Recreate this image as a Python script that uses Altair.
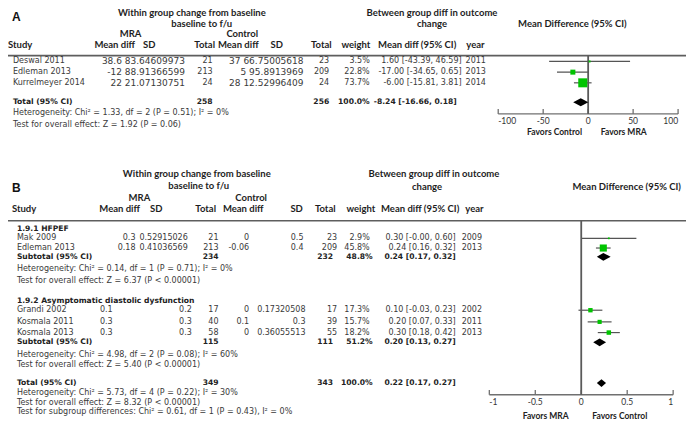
import altair as alt
import pandas as pd

# ======================= DATA =======================
# ---- Panel A ----
a_study = ["Deswal 2011", "Edleman 2013", "Kurrelmeyer 2014"]
a_mra_md = ["38.6", "-12", "22"]
a_mra_sd = ["83.64609973", "88.91366599", "21.07130751"]
a_mra_n = [21, 213, 24]
a_ctl_md = ["37", "5", "28"]
a_ctl_sd = ["66.75005618", "95.8913969", "12.52996409"]
a_ctl_n = [23, 209, 24]
a_weight = [3.5, 22.8, 73.7]
a_md = [1.60, -17.00, -6.00]
a_lo = [-43.39, -34.65, -15.81]
a_hi = [46.59, 0.65, 3.81]
a_year = [2011, 2013, 2014]
a_total_n = [258, 256]
a_total_est = [-8.24, -16.66, 0.18]
a_notes = ["Heterogeneity: Chi² = 1.33, df = 2 (P = 0.51); I² = 0%",
           "Test for overall effect: Z = 1.92 (P = 0.06)"]
a_ticks = [-100, -50, 0, 50, 100]
a_favors = ["Favors Control", "Favors MRA"]

# ---- Panel B ----
b_group_names = ["1.9.1 HFPEF", "1.9.2 Asymptomatic diastolic dysfunction"]
b_study = [["Mak 2009", "Edleman 2013"], ["Grandi 2002", "Kosmala 2011", "Kosmala 2013"]]
b_mra_md = [["0.3", "0.18"], ["0.1", "0.3", "0.3"]]
b_mra_sd = [["0.52915026", "0.41036569"], ["0.2", "0.3", "0.3"]]
b_mra_n = [[21, 213], [17, 40, 58]]
b_ctl_md = [["0", "-0.06"], ["0", "0.1", "0"]]
b_ctl_sd = [["0.5", "0.4"], ["0.17320508", "0.3", "0.36055513"]]
b_ctl_n = [[23, 209], [17, 39, 55]]
b_weight = [[2.9, 45.8], [17.3, 15.7, 18.2]]
b_md = [[0.30, 0.24], [0.10, 0.20, 0.30]]
b_lo = [[-0.0, 0.16], [-0.03, 0.07, 0.18]]
b_hi = [[0.60, 0.32], [0.23, 0.33, 0.42]]
b_year = [[2009, 2013], [2002, 2011, 2013]]
b_sub_n = [[234, 232], [115, 111]]
b_sub_w = [48.8, 51.2]
b_sub_est = [[0.24, 0.17, 0.32], [0.20, 0.13, 0.27]]
b_sub_notes = [["Heterogeneity: Chi² = 0.14, df = 1 (P = 0.71); I² = 0%",
                "Test for overall effect: Z = 6.37 (P < 0.00001)"],
               ["Heterogeneity: Chi² = 4.98, df = 2 (P = 0.08); I² = 60%",
                "Test for overall effect: Z = 5.40 (P < 0.00001)"]]
b_total_n = [349, 343]
b_total_est = [0.22, 0.17, 0.27]
b_total_notes = ["Heterogeneity: Chi² = 5.73, df = 4 (P = 0.22); I² = 30%",
                 "Test for overall effect: Z = 8.32 (P < 0.00001)",
                 "Test for subgroup differences: Chi² = 0.61, df = 1 (P = 0.43), I² = 0%"]
b_ticks = [-1, -0.5, 0, 0.5, 1]
b_favors = ["Favors MRA", "Favors Control"]

# ======================= LAYOUT =======================
W, H = 678, 413
RX = [4, 690]
RY = [2, 427]


def sx(v):
    return (v - RX[0]) * W / (RX[1] - RX[0])


def xs():
    return alt.Scale(domain=RX, range=[0, W], nice=False, zero=False)


YS = alt.Scale(domain=RY, range=[0, H], nice=False, zero=False)
FA_DOM, FA_RANGE = [-100, 100], [sx(500), sx(682)]
FB_DOM, FB_RANGE = [-1, 1], [sx(491), sx(677)]

A_ROWS = [57, 68, 79]
A_TOT = 99
A_NOTES = [110, 122]
A_LINE = 51
A_AXIS = 111
A_FAV = [(557, 130), (627, 130)]

B_GROUP_Y = [229, 303]
B_ROWS = [[239, 249], [313, 325, 336]]
B_SUB_Y = [258, 346]
B_SUB_NOTES = [[271, 283], [359, 369]]
B_TOT = 388
B_TOT_NOTES = [398, 408, 418]
B_LINE = 221
B_AXIS = 400
B_FAV = [(548, 422), (623, 422)]

B_COLS = [dict(mra_md=(133, "right"), mra_sd=(137, "left"), ctl_md=(248, "right"), ctl_sd=(303, "right")),
          dict(mra_md=(97, "left"), mra_sd=(190, "right"), ctl_md=(248, "right"), ctl_sd=(305, "right"))]

STYLES = {
    "body": dict(font="DejaVu Sans", fontSize=8, fontWeight="normal", color="#3a3a3a"),
    "num": dict(font="DejaVu Sans", fontSize=9, fontWeight="normal", color="#3a3a3a"),
    "bodyb": dict(font="DejaVu Sans", fontSize=7.6, fontWeight="bold", color="#222222"),
    "head": dict(font="Lato", fontSize=9.5, fontWeight="bold", color="#1e1e1e"),
    "fav": dict(font="Lato", fontSize=8.5, fontWeight="bold", color="#222222"),
    "panel": dict(font="Liberation Sans", fontSize=12, fontWeight="bold", color="#111111"),
}
TICK_STYLE = dict(font="Lato", fontSize=8.5, color="#333333")
AXIS_COLOR = "#707070"
GREEN = "#00c400"


def ci_str(md, lo, hi):
    return f"{md:.2f} [{lo:.2f}, {hi:.2f}]"


cells = []


def add(x, y, text, style="body", align="left"):
    cells.append(dict(x=x, y=y, text=str(text), style=style, align=align))


# ---------- Panel A text ----------
add(8, 11, "A", "panel")
add(190, 7.5, "Within group change from baseline", "head", "center")
add(200, 18, "baseline to f/u", "head", "center")
add(433, 7.5, "Between group diff in outcome", "head", "center")
add(433, 18, "change", "head", "center")
add(575, 18, "Mean Difference (95% CI)", "head", "center")
add(128, 29, "MRA", "head", "center")
add(241, 29, "Control", "head", "center")
for lab, cx in [("Mean diff", 112), ("SD", 147), ("Total", 203), ("Mean diff", 237), ("SD", 276),
                ("Total", 321), ("weight", 356), ("Mean diff (95% CI)", 418), ("year", 477)]:
    add(cx, 40, lab, "head", "center")
add(4, 40, "Study", "head", "left")
for i, y in enumerate(A_ROWS):
    add(9, y, a_study[i])
    add(183, y, f"{a_mra_md[i]} {a_mra_sd[i]}", "num", "right")
    add(211, y, a_mra_n[i], "body", "right")
    add(303, y, f"{a_ctl_md[i]} {a_ctl_sd[i]}", "num", "right")
    add(329, y, a_ctl_n[i], "body", "right")
    add(370, y, f"{a_weight[i]:.1f}%", "body", "right")
    add(463, y, ci_str(a_md[i], a_lo[i], a_hi[i]), "body", "right")
    add(467, y, a_year[i], "body", "left")
add(9, A_TOT, "Total (95% CI)", "bodyb")
add(211, A_TOT, a_total_n[0], "bodyb", "right")
add(329, A_TOT, a_total_n[1], "bodyb", "right")
add(370, A_TOT, "100.0%", "bodyb", "right")
add(458, A_TOT, ci_str(*a_total_est), "bodyb", "right")
for note, y in zip(a_notes, A_NOTES):
    add(9, y, note)
for lab, (fx, fy) in zip(a_favors, A_FAV):
    add(fx, fy, lab, "fav", "center")

# ---------- Panel B text ----------
add(8, 187, "B", "panel")
add(195, 173, "Within group change from baseline", "head", "center")
add(197, 185, "baseline to f/u", "head", "center")
add(435, 173, "Between group diff in outcome", "head", "center")
add(428, 186, "change", "head", "center")
add(630, 186, "Mean Difference (95% CI)", "head", "center")
add(137, 198, "MRA", "head", "center")
add(250, 198, "Control", "head", "center")
add(8, 209, "Study", "head", "left")
for lab, cx in [("Mean diff", 117), ("SD", 154), ("Total", 204), ("Mean diff", 242), ("SD", 296),
                ("Total", 325), ("weight", 361), ("Mean diff (95% CI)", 421), ("year", 476)]:
    add(cx, 209, lab, "head", "center")

b_study_rows = []
b_diamonds = []
for g in range(2):
    add(13, B_GROUP_Y[g], b_group_names[g], "bodyb")
    cols = B_COLS[g]
    for i, y in enumerate(B_ROWS[g]):
        add(13, y, b_study[g][i])
        add(cols["mra_md"][0], y, b_mra_md[g][i], "body", cols["mra_md"][1])
        add(cols["mra_sd"][0], y, b_mra_sd[g][i], "body", cols["mra_sd"][1])
        add(217, y, b_mra_n[g][i], "body", "right")
        add(cols["ctl_md"][0], y, b_ctl_md[g][i], "body", cols["ctl_md"][1])
        add(cols["ctl_sd"][0], y, b_ctl_sd[g][i], "body", cols["ctl_sd"][1])
        add(337, y, b_ctl_n[g][i], "body", "right")
        add(370, y, f"{b_weight[g][i]:.1f}%", "body", "right")
        add(457, y, ci_str(b_md[g][i], b_lo[g][i], b_hi[g][i]), "body", "right")
        add(463, y, b_year[g][i], "body", "left")
        b_study_rows.append(dict(md=b_md[g][i], lo=b_lo[g][i], hi=b_hi[g][i], weight=b_weight[g][i], y=y))
    ys = B_SUB_Y[g]
    add(13, ys, "Subtotal (95% CI)", "bodyb")
    add(217, ys, b_sub_n[g][0], "bodyb", "right")
    add(333, ys, b_sub_n[g][1], "bodyb", "right")
    add(373, ys, f"{b_sub_w[g]:.1f}%", "bodyb", "right")
    add(457, ys, ci_str(*b_sub_est[g]), "bodyb", "right")
    b_diamonds.append((f"sub{g}", b_sub_est[g], ys))
    for note, y in zip(b_sub_notes[g], B_SUB_NOTES[g]):
        add(13, y, note)
add(13, B_TOT, "Total (95% CI)", "bodyb")
add(217, B_TOT, b_total_n[0], "bodyb", "right")
add(333, B_TOT, b_total_n[1], "bodyb", "right")
add(373, B_TOT, "100.0%", "bodyb", "right")
add(457, B_TOT, ci_str(*b_total_est), "bodyb", "right")
b_diamonds.append(("tot", b_total_est, B_TOT))
for note, y in zip(b_total_notes, B_TOT_NOTES):
    add(13, y, note)
for lab, (fx, fy) in zip(b_favors, B_FAV):
    add(fx, fy, lab, "fav", "center")

cells_df = pd.DataFrame(cells)

layers = []

sep_df = pd.DataFrame({"x": [1, 3], "x2": [694, 694], "y": [A_LINE, B_LINE]})
layers.append(alt.Chart(sep_df).mark_rule(color="#5e5e5e", strokeWidth=1.6).encode(
    x=alt.X("x:Q", scale=xs(), axis=None), x2="x2:Q", y=alt.Y("y:Q", scale=YS, axis=None)))

for (style, align), sub in cells_df.groupby(["style", "align"]):
    layers.append(
        alt.Chart(sub.reset_index(drop=True))
        .mark_text(align=align, baseline="middle", **STYLES[style])
        .encode(x=alt.X("x:Q", scale=xs(), axis=None),
                y=alt.Y("y:Q", scale=YS, axis=None),
                text="text:N")
    )


# ---------- forest plots ----------
def diamond_df(items, half=4):
    rows = []
    for key, (md, lo, hi), y in items:
        rows += [dict(id=key, x=lo, y=y, y2=y),
                 dict(id=key, x=md, y=y - half, y2=y + half),
                 dict(id=key, x=hi, y=y, y2=y)]
    return pd.DataFrame(rows)


def forest(study_df, diam_df, dom, rng, ticks, top, axis_y):
    def X(f):
        return alt.X(f, scale=alt.Scale(domain=dom, range=rng, nice=False, zero=False), axis=None)

    def Y(f):
        return alt.Y(f, scale=YS, axis=None)

    n = len(ticks)
    tick_df = pd.DataFrame({"t": ticks,
                            "ya": [axis_y - 5] * n, "yb": [axis_y] * n,
                            "yl": [axis_y + 7.5] * n,
                            "label": [f"{t:g}" for t in ticks],
                            "pos": ["first"] + ["mid"] * (n - 2) + ["last"]})
    out = []
    # axis line, ticks (pointing up) and tick labels
    dom_df = pd.DataFrame({"a": [min(ticks)], "b": [max(ticks)], "ya": [axis_y]})
    out.append(alt.Chart(dom_df).mark_rule(color=AXIS_COLOR, strokeWidth=1.3).encode(
        x=X("a:Q"), x2="b:Q", y=Y("ya:Q")))
    out.append(alt.Chart(tick_df).mark_rule(color=AXIS_COLOR, strokeWidth=1.3).encode(
        x=X("t:Q"), y=Y("ya:Q"), y2="yb:Q"))
    for pos, al in [("first", "left"), ("mid", "center"), ("last", "right")]:
        out.append(alt.Chart(tick_df).transform_filter(alt.datum.pos == pos)
                   .mark_text(align=al, baseline="middle", **TICK_STYLE)
                   .encode(x=X("t:Q"), y=Y("yl:Q"), text="label:N"))
    out.append(alt.Chart(study_df).mark_rule(color="#555555", strokeWidth=1.2).encode(
        x=X("lo:Q"), x2="hi:Q", y=Y("y:Q")))
    # vertical line of no effect, drawn as a two-point line from the header rule to the axis
    zero_df = pd.DataFrame({"zx": [0, 0], "zy": [top, axis_y]})
    out.append(alt.Chart(zero_df).mark_line(color="#5a5a5a", strokeWidth=1.8).encode(
        x=X("zx:Q"), y=Y("zy:Q"), order="zy:Q"))
    out.append(alt.Chart(study_df).mark_square(color=GREEN, opacity=1).encode(
        x=X("md:Q"), y=Y("y:Q"),
        size=alt.Size("weight:Q", scale=alt.Scale(domain=[0, 100], range=[0, 110]), legend=None)))
    out.append(alt.Chart(diam_df).mark_area(color="black", orient="vertical", opacity=1).encode(
        x=X("x:Q"), y=Y("y:Q"), y2="y2:Q", detail="id:N"))
    return out


a_df = pd.DataFrame(dict(md=a_md, lo=a_lo, hi=a_hi, weight=a_weight, y=A_ROWS))
layers += forest(a_df, diamond_df([("tot", a_total_est, A_TOT)]), FA_DOM, FA_RANGE, a_ticks, A_LINE, A_AXIS)
layers += forest(pd.DataFrame(b_study_rows), diamond_df(b_diamonds), FB_DOM, FB_RANGE, b_ticks, B_LINE, B_AXIS)

chart = (
    alt.layer(*layers)
    .resolve_scale(x="independent", size="independent")
    .properties(width=W, height=H, padding=0, autosize=alt.AutoSizeParams(type="none"),
                background="white")
    .configure_view(stroke=None)
)

chart.save("out.html", embed_options={"renderer": "svg", "actions": False})
